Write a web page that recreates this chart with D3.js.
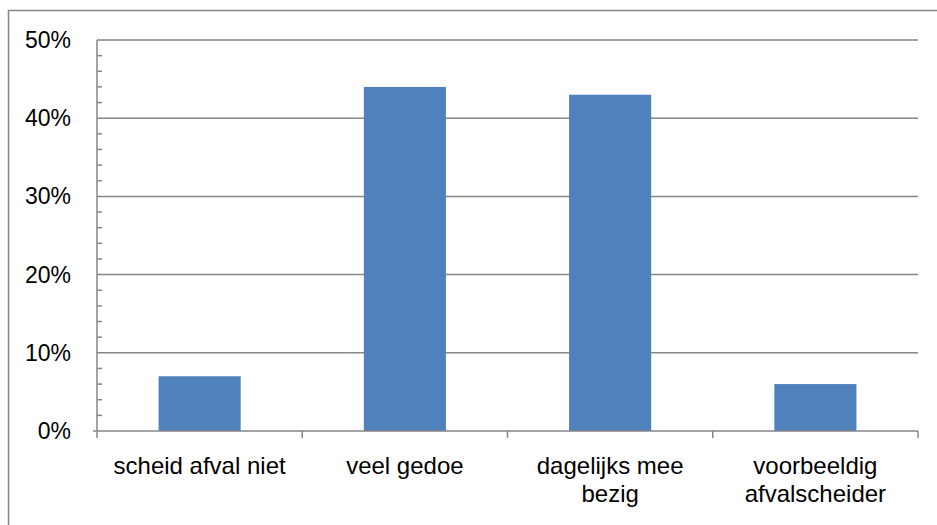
<!DOCTYPE html>
<html lang="nl">
<head>
<meta charset="UTF-8">
<style>
    body { margin: 0; background: #fff; }
    text { font-family: "Liberation Sans", Arial, sans-serif; fill: #000; }
</style>
</head>
<body>
<div id="chart"></div>
<script src="https://cdn.jsdelivr.net/npm/d3@7"></script>
<script>
    // data
    var categories = [["scheid afval niet"], ["veel gedoe"], ["dagelijks mee", "bezig"], ["voorbeeldig", "afvalscheider"]];
    var values = [0.07, 0.44, 0.43, 0.06];
    var yTicks = [0, 0.1, 0.2, 0.3, 0.4, 0.5];

    var W = 937, H = 525;
    var plotLeft = 97, plotRight = 918, plotTop = 40, plotBottom = 431;
    var grey = "#868686";

    var svg = d3.select("#chart").append("svg")
        .attr("width", W).attr("height", H);

    // outer frame
    svg.append("rect")
        .attr("x", 8.5).attr("y", 10.5)
        .attr("width", 940).attr("height", 530)
        .attr("fill", "none").attr("stroke", grey).attr("stroke-width", 1.5);

    var x = d3.scaleBand()
        .domain(d3.range(categories.length))
        .range([plotLeft, plotRight])
        .paddingInner(0.6).paddingOuter(0.3);

    var y = d3.scaleLinear().domain([0, 0.5]).range([plotBottom, plotTop]);

    // gridlines
    svg.selectAll(".grid")
        .data(yTicks.slice(1))
        .enter().append("line")
        .attr("x1", plotLeft).attr("x2", plotRight)
        .attr("y1", function (d) { return y(d); })
        .attr("y2", function (d) { return y(d); })
        .attr("stroke", grey).attr("stroke-width", 1.5);

    // minor ticks every 2%
    var minor = d3.range(0, 0.5001, 0.02).filter(function (d) {
        return Math.abs(d * 10 - Math.round(d * 10)) > 1e-6;
    });
    svg.selectAll(".minor")
        .data(minor)
        .enter().append("line")
        .attr("x1", plotLeft).attr("x2", plotLeft + 5)
        .attr("y1", function (d) { return y(d); })
        .attr("y2", function (d) { return y(d); })
        .attr("stroke", grey).attr("stroke-width", 1.5);

    // bars
    svg.selectAll(".bar")
        .data(values)
        .enter().append("rect")
        .attr("x", function (d, i) { return x(i); })
        .attr("y", function (d) { return y(d); })
        .attr("width", x.bandwidth())
        .attr("height", function (d) { return plotBottom - y(d); })
        .attr("fill", "#4F81BD");

    // y axis line
    svg.append("line")
        .attr("x1", plotLeft).attr("x2", plotLeft)
        .attr("y1", plotTop).attr("y2", plotBottom)
        .attr("stroke", grey).attr("stroke-width", 1.5);

    // x axis line + category ticks
    svg.append("line")
        .attr("x1", plotLeft - 4).attr("x2", plotRight)
        .attr("y1", plotBottom).attr("y2", plotBottom)
        .attr("stroke", grey).attr("stroke-width", 1.5);

    var step = (plotRight - plotLeft) / categories.length;
    svg.selectAll(".xtick")
        .data(d3.range(categories.length + 1))
        .enter().append("line")
        .attr("x1", function (d) { return plotLeft + d * step; })
        .attr("x2", function (d) { return plotLeft + d * step; })
        .attr("y1", plotBottom).attr("y2", plotBottom + 7)
        .attr("stroke", grey).attr("stroke-width", 1.5);

    // y labels
    svg.selectAll(".ylab")
        .data(yTicks)
        .enter().append("text")
        .attr("x", plotLeft - 26)
        .attr("y", function (d) { return y(d) + 8; })
        .attr("text-anchor", "end")
        .style("font-size", "23px")
        .text(function (d) { return Math.round(d * 100) + "%"; });

    // x labels
    var xl = svg.selectAll(".xlab")
        .data(categories)
        .enter().append("text")
        .attr("text-anchor", "middle")
        .style("font-size", "24px");
    xl.selectAll("tspan")
        .data(function (d, i) { return d.map(function (s) { return { s: s, i: i }; }); })
        .enter().append("tspan")
        .attr("x", function (d) { return x(d.i) + x.bandwidth() / 2; })
        .attr("y", function (d, j) { return 474 + j * 28; })
        .text(function (d) { return d.s; });
</script>
</body>
</html>
